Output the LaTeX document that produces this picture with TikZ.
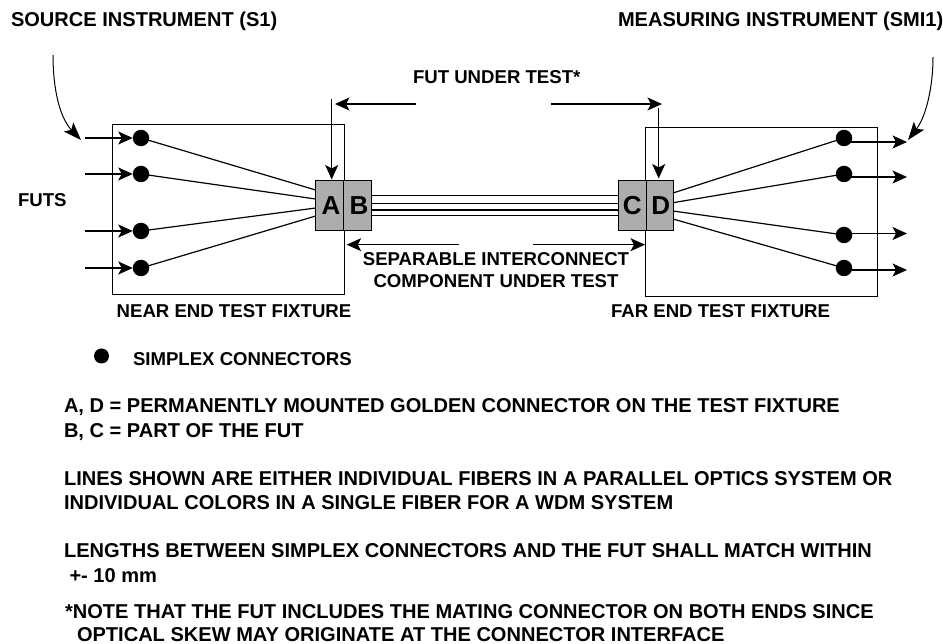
\documentclass[tikz,border=0pt]{standalone}
\usepackage{fontspec}
\setmainfont{Liberation Sans}
\usetikzlibrary{arrows.meta}
\definecolor{conn}{gray}{0.68}
\tikzset{
  x=1pt,y=-1pt,
  every node/.style={inner sep=0pt,outer sep=0pt},
  lab/.style={anchor=base west,font=\fontsize{18.6}{20}\selectfont\bfseries},
  big/.style={anchor=base west,font=\fontsize{20.05}{22}\selectfont\bfseries},
  clab/.style={anchor=base,font=\fontsize{18.6}{20}\selectfont\bfseries},
  wire/.style={line width=1.2pt,black},
  arr/.style={line width=1.2pt,black,-{Stealth[length=14.5pt,width=13pt,inset=3.5pt]}},
  curvearr/.style={line width=1pt,black,-{Stealth[length=18pt,width=13pt,inset=4pt]}},
  fixture/.style={draw,line width=1.2pt,fill=none,anchor=north west},
  conbox/.style={draw,line width=1pt,fill=conn,anchor=north west,font=\fontsize{26}{27}\selectfont\bfseries},
  dot/.style={circle,fill=black,minimum size=16.5pt}
}
\begin{document}
\begin{tikzpicture}
\useasboundingbox (0,0) rectangle (943,644);
% fixtures
\node[fixture,minimum width=231.5pt,minimum height=169.5pt] (nearfix) at (112.7,124.7) {};
\node[fixture,minimum width=232.5pt,minimum height=168.5pt] (farfix) at (645.3,127.7) {};
% connectors
\node[conbox,minimum width=27.5pt,minimum height=49.5pt] (A) at (315.7,180.7) {\hspace{3pt}A};
\node[conbox,minimum width=28.5pt,minimum height=49.5pt] (B) at (343.2,180.7) {\hspace{3pt}B};
\node[conbox,minimum width=28.5pt,minimum height=49.5pt] (C) at (618,180.7) {C};
\node[conbox,minimum width=26.5pt,minimum height=49.5pt] (D) at (646.5,180.7) {\hspace{2pt}D};
% dots
\foreach \n/\y in {1/138,2/174,3/231,4/268}{
  \node[dot] (L\n) at (141,\y) {};
  \coordinate (Li\n) at (85,\y);
}
\foreach \n/\y/\e in {1/138/142,2/174/177,3/235/233.5,4/268/270}{
  \node[dot] (R\n) at (844,\y) {};
  \coordinate (Rs\n) at (844,\e);
  \coordinate (Ro\n) at (907,\e);
}
% end points
\foreach \n/\y in {1/190,2/199,3/208,4/216}{\coordinate (Aw\n) at (315.7,\y);}
\foreach \n/\y in {1/193,2/202.7,3/211,4/219}{\coordinate (Dw\n) at (673,\y);}
\foreach \n/\y in {1/195.3,2/203.3,3/210,4/215.7}{
  \coordinate (Bw\n) at (372,\y);
  \coordinate (Cw\n) at (618,\y);
  \draw[wire] (Bw\n) -- (Cw\n);
}
\foreach \n in {1,2,3,4}{
  \draw[arr] (Li\n) -- (L\n.west);
  \draw[wire] (L\n.center) -- (Aw\n);
  \draw[wire] (Dw\n) -- (R\n.center);
  \draw[arr] (Rs\n) -- (Ro\n);
}
% FUT markers
\coordinate (fl0) at (331.7,99); \coordinate (fl1) at (331.7,179.5);
\coordinate (fr0) at (658.7,108); \coordinate (fr1) at (658.7,178.5);
\coordinate (ta) at (415.7,104); \coordinate (tb) at (335,104);
\coordinate (tc) at (551,104); \coordinate (td) at (662,104);
\draw[arr] (fl0) -- (fl1);
\draw[arr] (fr0) -- (fr1);
\draw[arr] (ta) -- (tb);
\draw[arr] (tc) -- (td);
% separable arrows
\coordinate (sa) at (459,244.7); \coordinate (sb) at (346.7,244.7);
\coordinate (sc) at (533,244.7); \coordinate (sd) at (645,244.7);
\draw[arr] (sa) -- (sb);
\draw[arr] (sc) -- (sd);
% instrument pointers
\coordinate (ca) at (53,55); \coordinate (cb) at (81,140);
\coordinate (cc) at (933,57); \coordinate (cd) at (908,140);
\draw[curvearr] (ca) .. controls (53,90) and (60,118) .. (cb);
\draw[curvearr] (cc) .. controls (933,90) and (925,118) .. (cd);
% labels
\node[big] (s1) at (11,27) {SOURCE INSTRUMENT (S1)};
\node[big] (smi) at (618,27) {MEASURING INSTRUMENT (SMI1)};
\node[lab] (futt) at (413,84) {FUT UNDER TEST*};
\node[lab] (futs) at (18,207) {FUTS};
\node[clab] (sep1) at (496,265.7) {SEPARABLE INTERCONNECT};
\node[clab] (sep2) at (496,287.7) {COMPONENT UNDER TEST};
\node[lab] (nef) at (116.7,317.7) {NEAR END TEST FIXTURE};
\node[lab] (fef) at (611,317.7) {FAR END TEST FIXTURE};
\node[dot,minimum size=15pt] (keydot) at (101.5,356) {};
\node[lab] (key) at (133,366) {SIMPLEX CONNECTORS};
\node[big] (t1) at (64,413) {A, D = PERMANENTLY MOUNTED GOLDEN CONNECTOR ON THE TEST FIXTURE};
\node[big] (t2) at (64,437) {B, C = PART OF THE FUT};
\node[big] (t3) at (64,485) {LINES SHOWN ARE EITHER INDIVIDUAL FIBERS IN A PARALLEL OPTICS SYSTEM OR};
\node[big] (t4) at (64,509) {INDIVIDUAL COLORS IN A SINGLE FIBER FOR A WDM SYSTEM};
\node[big] (t5) at (64,557) {LENGTHS BETWEEN SIMPLEX CONNECTORS AND THE FUT SHALL MATCH WITHIN};
\node[big] (t6) at (69.5,582) {+- 10 mm};
\node[big] (t7) at (65,618) {*NOTE THAT THE FUT INCLUDES THE MATING CONNECTOR ON BOTH ENDS SINCE};
\node[big] (t8) at (77,641) {OPTICAL SKEW MAY ORIGINATE AT THE CONNECTOR INTERFACE};
\end{tikzpicture}
\end{document}
